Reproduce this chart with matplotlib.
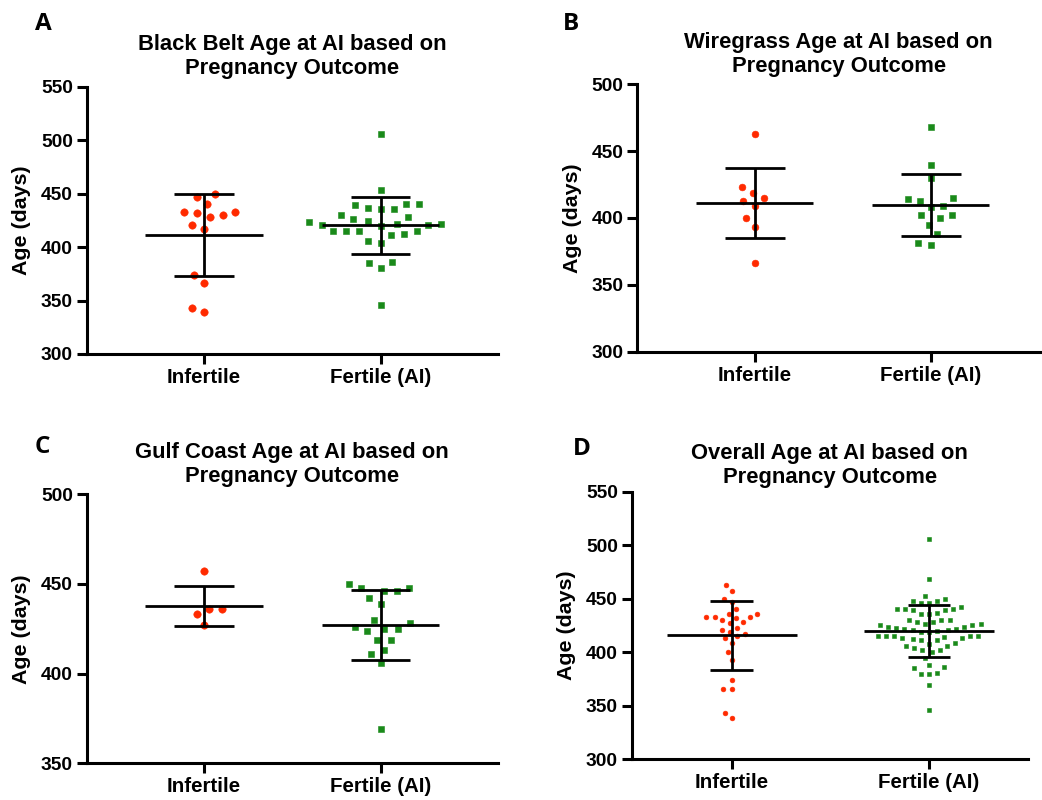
# coding: utf-8
"""
Age at AI by pregnancy outcome for three regions and overall:
scatter dot plots with mean and SD bars.
"""

import matplotlib
matplotlib.use("Agg")
import matplotlib.pyplot as plt
import numpy as np


# ------------------------------------------------------------------------

# age at AI (days), read per region
black_belt_infertile = [447, 450, 440, 433, 433, 428, 430, 432, 417, 421, 374, 366, 339, 343]
black_belt_fertile = [506, 453, 430, 426, 440, 437, 436, 436, 439, 440, 428, 424, 422, 421, 420,
                      421, 422, 423, 415, 415, 411, 412, 415, 415, 404, 406, 385, 386, 380, 346]
wiregrass_infertile = [463, 423, 419, 415, 413, 409, 400, 393, 366]
wiregrass_fertile = [468, 440, 430, 415, 413, 414, 408, 409, 402, 400, 402, 395, 388, 380, 381]
gulf_coast_infertile = [457, 436, 436, 433, 427]
gulf_coast_fertile = [448, 446, 446, 448, 450, 442, 439, 430, 426, 425, 424, 425, 428, 419, 419,
                      411, 413, 406, 369]

overall_infertile = black_belt_infertile + wiregrass_infertile + gulf_coast_infertile
overall_fertile = black_belt_fertile + wiregrass_fertile + gulf_coast_fertile

groups = ["Infertile", "Fertile (AI)"]

titles = [
    "Black Belt Age at AI based on\nPregnancy Outcome",
    "Wiregrass Age at AI based on\nPregnancy Outcome",
    "Gulf Coast Age at AI based on\nPregnancy Outcome",
    "Overall Age at AI based on\nPregnancy Outcome",
]
letters = ["A", "B", "C", "D"]

RED = "#ff2a00"
GREEN = "#1a8a1a"
FIG_W, FIG_H = 1042, 800
FONT = "Liberation Sans"


def swarm_offsets(y_px, d):
    """Beeswarm: put each point as close to the centre as it can go without overlap."""
    y_px = np.asarray(y_px, dtype=float)
    xs = np.zeros(len(y_px))
    placed = []
    for i in np.argsort(y_px, kind="stable"):
        y = y_px[i]
        near = [(px, py) for px, py in placed if abs(py - y) < d]
        cands = [0.0]
        for px, py in near:
            dx = np.sqrt(d * d - (py - y) ** 2)
            cands += [px + dx, px - dx]
        cands.sort(key=lambda c: (round(abs(c), 6), c))
        for c in cands:
            if all((c - px) ** 2 + (y - py) ** 2 >= d * d - 1e-6 for px, py in near):
                xs[i] = c
                break
        placed.append((xs[i], y))
    return xs


def dot_panel(ax, data, rect, xlim, ylim, yticks, title, pad,
              ms=7.4, spacing=13.0, mean_w=0.333, cap_w=0.17):
    ax.set_xlim(*xlim)
    ax.set_ylim(*ylim)
    px_x = rect[2] * FIG_W / (xlim[1] - xlim[0])
    px_y = rect[3] * FIG_H / (ylim[1] - ylim[0])

    for i, (vals, color, marker) in enumerate(zip(data, [RED, GREEN], ["o", "s"])):
        vals = np.asarray(vals, dtype=float)
        off = swarm_offsets(vals * px_y, spacing) / px_x
        size = ms if marker == "o" else ms * 0.92
        ax.plot(i + off, vals, ls="none", marker=marker, ms=size * 72 / 100,
                mfc=color, mec=color, mew=0.4, zorder=2, clip_on=False)

        # mean with SD whiskers
        m = vals.mean()
        sd = vals.std(ddof=1)
        ax.hlines(m, i - mean_w, i + mean_w, color="black", lw=2.0, zorder=3)
        ax.vlines(i, m - sd, m + sd, color="black", lw=2.0, zorder=3)
        ax.hlines([m - sd, m + sd], i - cap_w, i + cap_w, color="black", lw=2.0, zorder=3)

    ax.set_xticks(range(len(groups)))
    ax.set_xticklabels(groups, fontsize=14.8, fontweight="bold", family=FONT)
    ax.set_yticks(yticks)
    ax.set_yticklabels([str(t) for t in yticks], fontsize=13.8, fontweight="bold", family=FONT)
    ax.set_ylabel("Age (days)", fontsize=15.4, fontweight="bold", family=FONT, labelpad=7)
    ax.set_title(title, fontsize=15.8, fontweight="bold", family=FONT, pad=pad, linespacing=1.2)

    for side in ["top", "right"]:
        ax.spines[side].set_visible(False)
    for side in ["left", "bottom"]:
        ax.spines[side].set_linewidth(2.2)
    ax.tick_params(direction="out", width=2.2, length=7, pad=3)
    ax.patch.set_alpha(0)


fig = plt.figure(figsize=(FIG_W / 100, FIG_H / 100), dpi=100)

panels = [
    dict(data=[black_belt_infertile, black_belt_fertile],
         rect=[0.0832, 0.5575, 0.3947, 0.3341], xlim=(-0.666, 1.666),
         ylim=(300, 550), yticks=[300, 350, 400, 450, 500, 550], pad=9),
    dict(data=[wiregrass_infertile, wiregrass_fertile],
         rect=[0.6116, 0.5604, 0.3865, 0.3342], xlim=(-0.666, 1.62),
         ylim=(300, 500), yticks=[300, 350, 400, 450, 500], pad=9,
         ms=6.8, spacing=12.5),
    dict(data=[gulf_coast_infertile, gulf_coast_fertile],
         rect=[0.0832, 0.0459, 0.3947, 0.3362], xlim=(-0.666, 1.666),
         ylim=(350, 500), yticks=[350, 400, 450, 500], pad=9),
    dict(data=[overall_infertile, overall_fertile],
         rect=[0.6062, 0.0509, 0.3804, 0.3345], xlim=(-0.507, 1.502),
         ylim=(300, 550), yticks=[300, 350, 400, 450, 500, 550], pad=6,
         ms=4.8, spacing=8.3, mean_w=0.33, cap_w=0.108),
]

letter_pos = [(35, 30), (563, 30), (35, 453), (573, 455)]

for p, title, letter, (lx, ly) in zip(panels, titles, letters, letter_pos):
    ax = fig.add_axes(p["rect"])
    kw = {k: v for k, v in p.items() if k != "rect"}
    dot_panel(ax, rect=p["rect"], title=title, **kw)
    fig.text(lx / FIG_W, 1 - ly / FIG_H, letter, fontsize=17.5, fontweight="bold",
             family="Open Sans", va="baseline", ha="left")

fig.savefig("out.png", dpi=100, facecolor="white")
